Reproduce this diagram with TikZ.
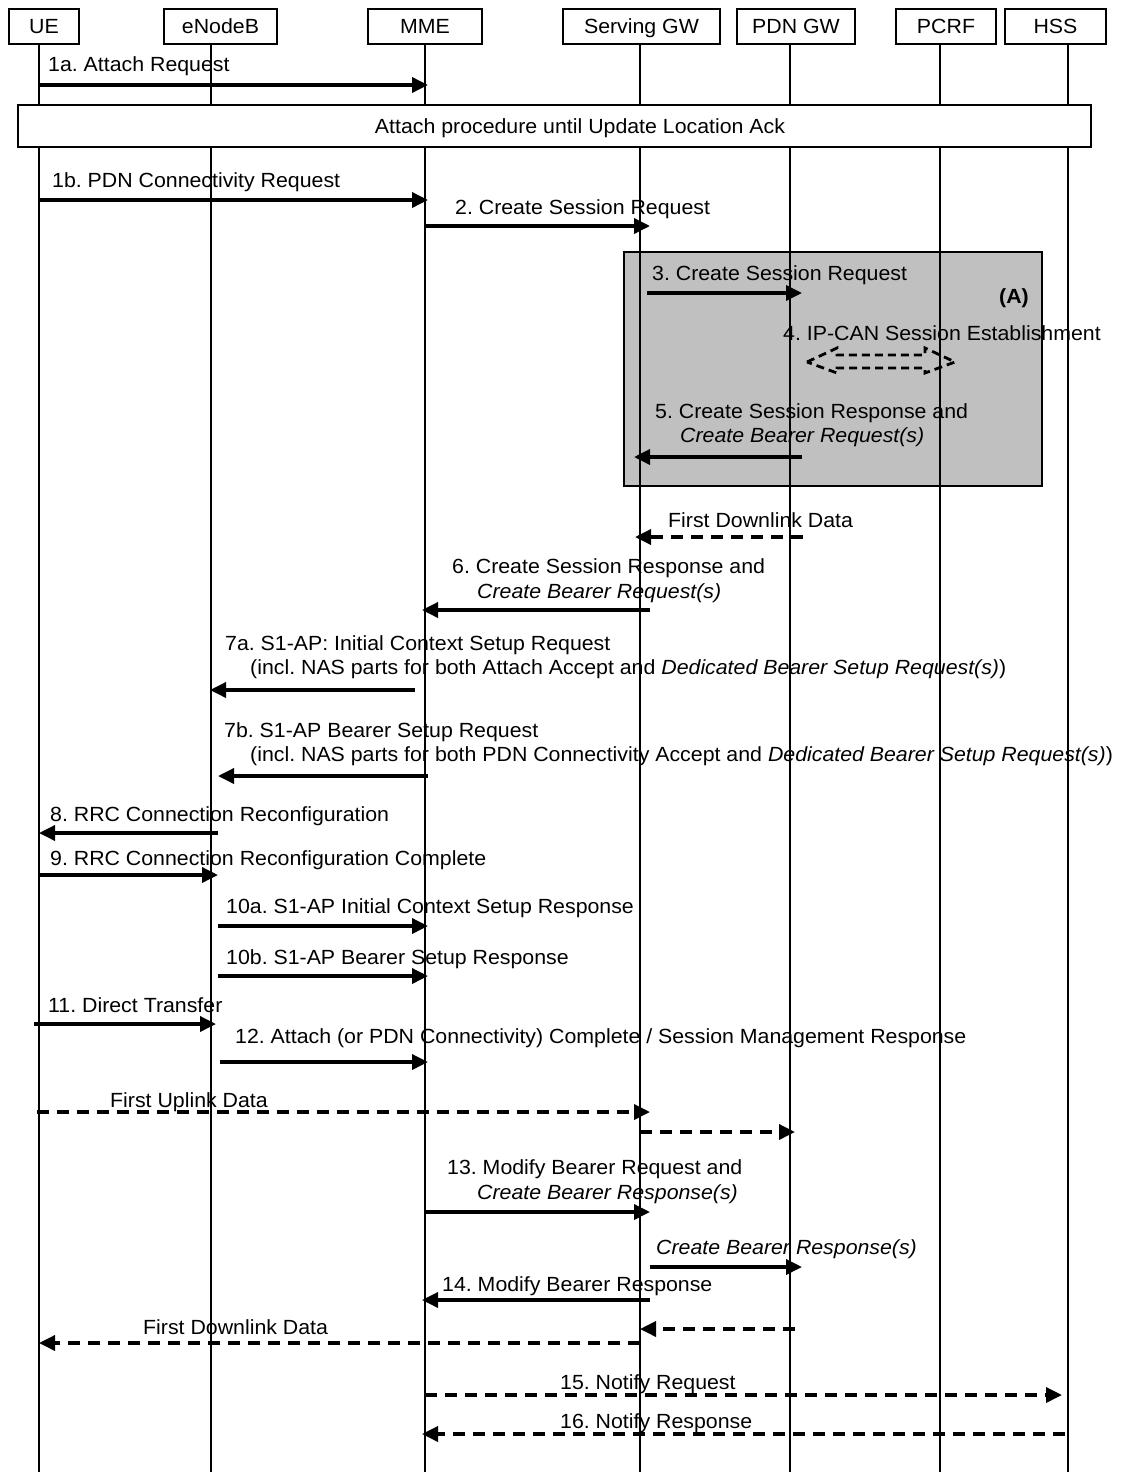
\documentclass[tikz,border=0pt]{standalone}
\usepackage{fontspec}
\setmainfont[FakeStretch=1.04]{Liberation Sans}
\usetikzlibrary{arrows.meta}
\definecolor{grpgray}{RGB}{192,192,192}
\begin{document}
\frenchspacing
\begin{tikzpicture}[x=1pt,y=-1pt,
  every node/.style={font=\fontsize{20.5}{24}\selectfont, inner sep=0pt},
  hdr/.style={draw, line width=2.4pt, minimum height=35pt, text height=15pt, text depth=0pt, anchor=center},
  life/.style={line width=1.3pt},
  msg/.style={line width=3.5pt, -{Triangle[length=16pt,width=15pt]}},
  dmsg/.style={msg, dash pattern=on 12pt off 8pt},
  lbl/.style={anchor=base west},
]
\useasboundingbox (0,0) rectangle (1123,1472);

% group box (A)
\node[draw, line width=1.5pt, fill=grpgray, minimum width=418pt, minimum height=234pt] (grp) at (833,369) {};

% header boxes
\node[hdr, minimum width=70pt]  (ue)   at (44,26.5)   {UE};
\node[hdr, minimum width=113pt] (enb)  at (220.5,26.5) {eNodeB};
\node[hdr, minimum width=114pt] (mme)  at (425,26.5)  {MME};
\node[hdr, minimum width=157pt] (sgw)  at (641.5,26.5) {Serving GW};
\node[hdr, minimum width=118pt] (pgw)  at (796,26.5)  {PDN GW};
\node[hdr, minimum width=100pt] (pcrf) at (946,26.5)  {PCRF};
\node[hdr, minimum width=101pt] (hss)  at (1055.5,26.5) {HSS};

% lifeline tops
\coordinate (ueL)   at (39,44);
\coordinate (enbL)  at (211,44);
\coordinate (mmeL)  at (425,44);
\coordinate (sgwL)  at (640,44);
\coordinate (pgwL)  at (790,44);
\coordinate (pcrfL) at (940,44);
\coordinate (hssL)  at (1068,44);
\foreach \l in {ueL,enbL,mmeL,sgwL,pgwL,pcrfL,hssL}
  \draw[life] (\l) -- (\l |- 0,1472);

% attach procedure box
\node[draw, line width=1.5pt, fill=white, minimum width=1073pt, minimum height=42pt, anchor=north west] (att) at (17,104) {};
\node (atttxt) at (580,128) {Attach procedure until Update Location Ack};

% messages
\node[lbl] (l1a) at (48,71) {1a. Attach Request};
\draw[msg, shorten >=-3pt] (ueL |- 0,85) -- (mmeL |- 0,85);

\node[lbl] (l1b) at (52,187) {1b. PDN Connectivity Request};
\draw[msg, shorten >=-3pt] (ueL |- 0,200) -- (mmeL |- 0,200);

\node[lbl] (l2) at (455,214) {2. Create Session Request};
\draw[msg, shorten >=-10pt] (mmeL |- 0,226) -- (sgwL |- 0,226);

\node[lbl] (l3) at (652,280) {3. Create Session Request};
\draw[msg, shorten <=7pt, shorten >=-12pt] (sgwL |- 0,293) -- (pgwL |- 0,293);

\node (lA) at (1014,298) {\bfseries (A)};
\node[lbl] (l4) at (783,340) {4. IP-CAN Session Establishment};
\draw[line width=2.8pt, dash pattern=on 8pt off 5pt, line join=miter]
  (807,362) -- (837,348) -- (837,355) -- (925,355) -- (925,348) -- (955,362)
  -- (925,373) -- (925,368) -- (837,368) -- (837,373) -- cycle;

\node[lbl] (l5a) at (655,418) {5. Create Session Response and};
\node[lbl] (l5b) at (680,442) {\itshape Create Bearer Request(s)};
\draw[msg, shorten <=-12pt, shorten >=-6pt] (pgwL |- 0,457) -- (sgwL |- 0,457);

\node[lbl] (lfd1) at (668,527) {First Downlink Data};
\draw[dmsg, shorten <=-13pt, shorten >=-5pt] (pgwL |- 0,537) -- (sgwL |- 0,537);

\node[lbl] (l6a) at (452,573) {6. Create Session Response and};
\node[lbl] (l6b) at (477,598) {\itshape Create Bearer Request(s)};
\draw[msg, shorten <=-10pt, shorten >=-3pt] (sgwL |- 0,610) -- (mmeL |- 0,610);

\node[lbl] (l7a1) at (225,650) {7a. S1-AP: Initial Context Setup Request};
\node[lbl] (l7a2) at (250,674) {(incl. NAS parts for both Attach Accept and \textit{Dedicated Bearer Setup Request(s)})};
\draw[msg, shorten <=10pt, shorten >=-1pt] (mmeL |- 0,690) -- (enbL |- 0,690);

\node[lbl] (l7b1) at (224,737) {7b. S1-AP Bearer Setup Request};
\node[lbl] (l7b2) at (250,761) {(incl. NAS parts for both PDN Connectivity Accept and \textit{Dedicated Bearer Setup Request(s)})};
\draw[msg, shorten <=-3pt, shorten >=7pt] (mmeL |- 0,776) -- (enbL |- 0,776);

\node[lbl] (l8) at (50,821) {8. RRC Connection Reconfiguration};
\draw[msg, shorten <=-7pt, shorten >=0pt] (enbL |- 0,833) -- (ueL |- 0,833);

\node[lbl] (l9) at (50,865) {9. RRC Connection Reconfiguration Complete};
\draw[msg, shorten >=-7pt] (ueL |- 0,875) -- (enbL |- 0,875);

\node[lbl] (l10a) at (226,913) {10a. S1-AP Initial Context Setup Response};
\draw[msg, shorten <=7pt, shorten >=-3pt] (enbL |- 0,926) -- (mmeL |- 0,926);

\node[lbl] (l10b) at (226,964) {10b. S1-AP Bearer Setup Response};
\draw[msg, shorten <=7pt, shorten >=-3pt] (enbL |- 0,976) -- (mmeL |- 0,976);

\node[lbl] (l11) at (48,1012) {11. Direct Transfer};
\draw[msg, shorten <=-5pt, shorten >=-5pt] (ueL |- 0,1024) -- (enbL |- 0,1024);

\node[lbl] (l12) at (235,1043) {12. Attach (or PDN Connectivity) Complete / Session Management Response};
\draw[msg, shorten <=9pt, shorten >=-3pt] (enbL |- 0,1062) -- (mmeL |- 0,1062);

\node[lbl] (lfu) at (110,1107) {First Uplink Data};
\draw[dmsg, shorten <=-2pt, shorten >=-10pt] (ueL |- 0,1112) -- (sgwL |- 0,1112);
\draw[dmsg, shorten >=-5pt] (sgwL |- 0,1132) -- (pgwL |- 0,1132);

\node[lbl] (l13a) at (447,1174) {13. Modify Bearer Request and};
\node[lbl] (l13b) at (477,1199) {\itshape Create Bearer Response(s)};
\draw[msg, shorten >=-10pt] (mmeL |- 0,1212) -- (sgwL |- 0,1212);

\node[lbl] (lcbr) at (656,1254) {\itshape Create Bearer Response(s)};
\draw[msg, shorten <=10pt, shorten >=-12pt] (sgwL |- 0,1267) -- (pgwL |- 0,1267);

\node[lbl] (l14) at (442,1291) {14. Modify Bearer Response};
\draw[msg, shorten <=-10pt, shorten >=-3pt] (sgwL |- 0,1300) -- (mmeL |- 0,1300);

\draw[dmsg, shorten <=-5pt, shorten >=0pt] (pgwL |- 0,1329) -- (sgwL |- 0,1329);
\node[lbl] (lfd2) at (143,1334) {First Downlink Data};
\draw[dmsg, shorten >=0pt] (sgwL |- 0,1343) -- (ueL |- 0,1343);

\node[lbl] (l15) at (560,1389) {15. Notify Request};
\draw[dmsg, shorten >=6pt] (mmeL |- 0,1395) -- (hssL |- 0,1395);

\node[lbl] (l16) at (560,1428) {16. Notify Response};
\draw[dmsg, shorten <=3pt, shorten >=-3pt] (hssL |- 0,1434) -- (mmeL |- 0,1434);
\end{tikzpicture}
\end{document}
